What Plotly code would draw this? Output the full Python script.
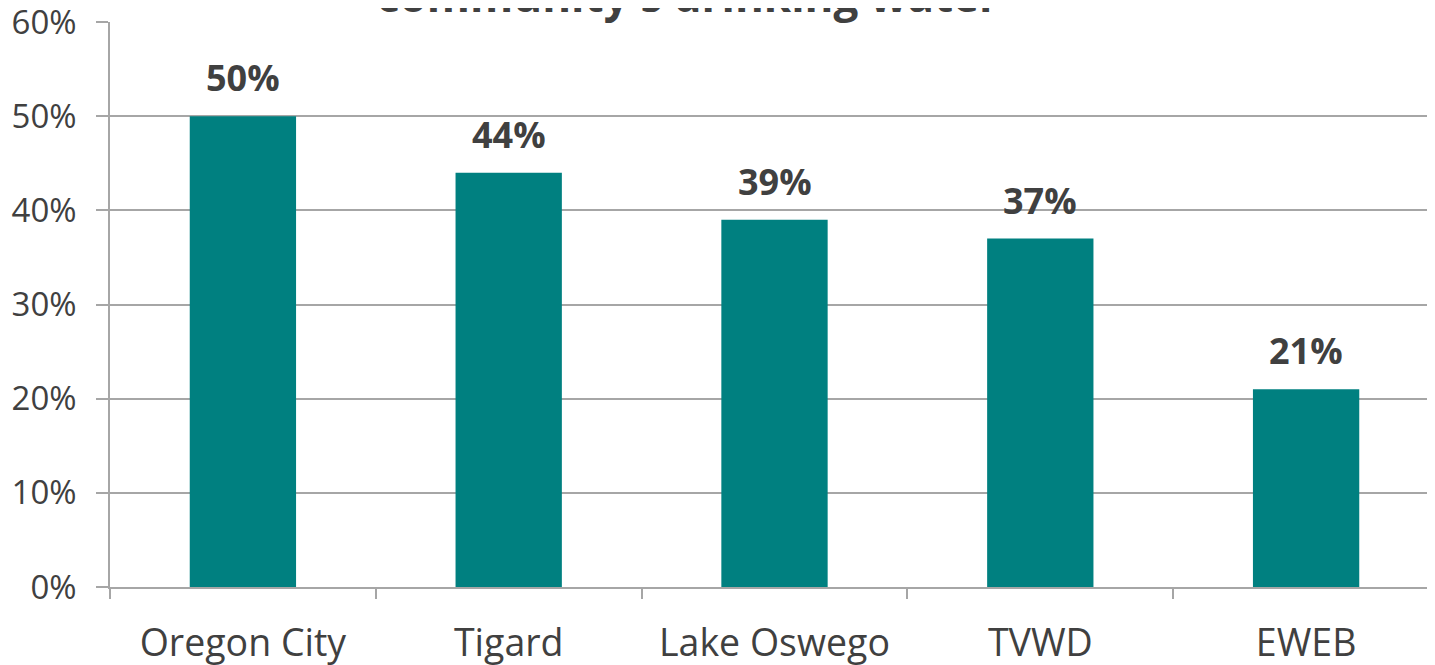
import plotly.graph_objects as go

categories = ["Oregon City", "Tigard", "Lake Oswego", "TVWD", "EWEB"]
values = [50, 44, 39, 37, 21]
value_labels = ["50%", "44%", "39%", "37%", "21%"]
title_text = "community's drinking water"

FONT = "Open Sans"
TEXT = "#404040"
GRID = "#a6a6a6"

fig = go.Figure()
fig.add_trace(go.Bar(
    x=categories, y=values,
    marker=dict(color="#008080", line=dict(width=0)),
    hoverinfo="skip",
))

for c, v, t in zip(categories, values, value_labels):
    fig.add_annotation(
        x=c, y=v, xref="x", yref="y", text=f"<b>{t}</b>",
        showarrow=False, yanchor="bottom", yshift=12,
        font=dict(family=FONT, size=36, color=TEXT),
    )

fig.add_annotation(
    x=0.435, y=1, xref="paper", yref="paper", text=f"<b>{title_text}</b>",
    showarrow=False, xanchor="center", yanchor="middle", yshift=27,
    font=dict(family=FONT, size=44, color=TEXT),
)

# page body has an 8px margin; offsets compensate so the plot lands where the reference has it
fig.update_layout(
    width=1441, height=665,
    margin=dict(l=102, r=10, t=14, b=86),
    paper_bgcolor="white", plot_bgcolor="white",
    showlegend=False,
    bargap=0.6,
    font=dict(family=FONT, color=TEXT),
)
fig.update_xaxes(
    range=[-0.5, 4.5], automargin=False,
    showline=True, linecolor=GRID, linewidth=1.5,
    ticks="outside", tickson="boundaries", ticklen=10, tickcolor=GRID, tickwidth=1.5,
    tickfont=dict(family=FONT, size=37.5, color=TEXT),
    ticklabelstandoff=22, ticklabeloverflow="allow",
    showgrid=False, zeroline=False,
)
fig.update_yaxes(
    range=[0, 60], dtick=10, ticksuffix="%", automargin=False,
    showline=True, linecolor=GRID, linewidth=1.5,
    ticks="outside", ticklen=12, tickcolor=GRID, tickwidth=1.5,
    tickfont=dict(family=FONT, size=33, color=TEXT),
    ticklabelstandoff=13, ticklabeloverflow="allow",
    showgrid=True, gridcolor=GRID, gridwidth=1.5,
    zeroline=False,
)

fig.write_html("out.html")
